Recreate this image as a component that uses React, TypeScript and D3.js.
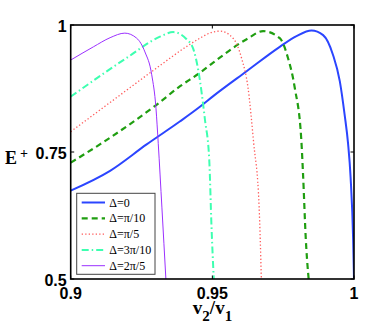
import React, { useEffect, useRef } from "react";
import * as d3 from "d3";

// values (v2/v1 -> E+)
const vDelta0 = [0.9, 0.9139, 0.9268, 0.9385, 0.9456, 0.9503, 0.9621, 0.9738, 0.9797, 0.985, 0.9891, 0.9926, 0.995, 0.9967, 0.9979, 0.9988, 0.9997, 1.0];
const eDelta0 = [0.674, 0.713, 0.765, 0.81, 0.839, 0.86, 0.909, 0.957, 0.978, 0.989, 0.98, 0.941, 0.889, 0.823, 0.767, 0.7, 0.577, 0.5];

const vDelta1 = [0.9, 0.9103, 0.9303, 0.9385, 0.9456, 0.9503, 0.9621, 0.9679, 0.9738, 0.9767, 0.9791, 0.9814, 0.982, 0.983, 0.9838, 0.984];
const eDelta1 = [0.729, 0.765, 0.843, 0.879, 0.906, 0.926, 0.972, 0.988, 0.974, 0.935, 0.876, 0.774, 0.708, 0.577, 0.512, 0.5];

const vDelta2 = [0.9, 0.915, 0.93, 0.9421, 0.9456, 0.9495, 0.9527, 0.9573, 0.9603, 0.9626, 0.9646, 0.9665, 0.9673];
const eDelta2 = [0.79, 0.852, 0.914, 0.962, 0.974, 0.985, 0.988, 0.974, 0.935, 0.876, 0.767, 0.643, 0.5];

const vDelta3 = [0.9, 0.9197, 0.9315, 0.9362, 0.9409, 0.9432, 0.945, 0.9474, 0.9489, 0.9497, 0.9505];
const eDelta3 = [0.859, 0.935, 0.977, 0.986, 0.972, 0.954, 0.912, 0.813, 0.735, 0.603, 0.5];

const vDelta4 = [0.9, 0.908, 0.9139, 0.9191, 0.9233, 0.9262, 0.9286, 0.9301, 0.9309, 0.9322, 0.9336];
const eDelta4 = [0.931, 0.957, 0.975, 0.984, 0.974, 0.947, 0.902, 0.836, 0.767, 0.64, 0.5];

const labels = ["Δ=0", "Δ=π/10", "Δ=π/5", "Δ=3π/10", "Δ=2π/5"];
const xTicks = [0.9, 0.95, 1];
const yTicks = [0.5, 0.75, 1];

const App = () => {
  const ref = useRef(null);

  useEffect(() => {
    const width = 391;
    const height = 330;
    const margin = { top: 25, right: 37, bottom: 51, left: 70.7 };

    const svg = d3.select(ref.current);
    svg.selectAll("*").remove();
    svg.attr("width", width).attr("height", height);

    const x = d3
      .scaleLinear()
      .domain([0.9, 1])
      .range([margin.left, width - margin.right]);
    const y = d3
      .scaleLinear()
      .domain([0.5, 1])
      .range([height - margin.bottom, margin.top]);

    const series = [
      { v: vDelta0, e: eDelta0, color: "#2b45ff", w: 2, dash: null },
      { v: vDelta1, e: eDelta1, color: "#1f9e10", w: 2.2, dash: "6,4" },
      { v: vDelta2, e: eDelta2, color: "#ff5a5a", w: 1.3, dash: "1.3,2.2" },
      { v: vDelta3, e: eDelta3, color: "#3dffb0", w: 2, dash: "7,3,1.5,3" },
      { v: vDelta4, e: eDelta4, color: "#9b30ff", w: 1, dash: null },
    ];

    const line = d3
      .line()
      .x((d) => x(d[0]))
      .y((d) => y(d[1]))
      .curve(d3.curveMonotoneX);

    svg
      .append("clipPath")
      .attr("id", "plotclip")
      .append("rect")
      .attr("x", margin.left)
      .attr("y", margin.top)
      .attr("width", width - margin.left - margin.right)
      .attr("height", height - margin.top - margin.bottom);

    const plot = svg.append("g").attr("clip-path", "url(#plotclip)");
    series.forEach((s) => {
      plot
        .append("path")
        .datum(s.v.map((v, i) => [v, s.e[i]]))
        .attr("d", line)
        .attr("fill", "none")
        .attr("stroke", s.color)
        .attr("stroke-width", s.w)
        .attr("stroke-dasharray", s.dash);
    });

    // box with inward ticks on all sides
    const x0 = x(0.9), x1 = x(1), y0 = y(0.5), y1 = y(1);
    const tick = 3.5;
    const axes = svg.append("g").attr("stroke", "#000").attr("stroke-width", 1);
    xTicks.forEach((t) => {
      axes.append("line").attr("x1", x(t)).attr("x2", x(t)).attr("y1", y0).attr("y2", y0 - tick);
      axes.append("line").attr("x1", x(t)).attr("x2", x(t)).attr("y1", y1).attr("y2", y1 + tick);
    });
    yTicks.forEach((t) => {
      axes.append("line").attr("x1", x0).attr("x2", x0 + tick).attr("y1", y(t)).attr("y2", y(t));
      axes.append("line").attr("x1", x1).attr("x2", x1 - tick).attr("y1", y(t)).attr("y2", y(t));
    });
    svg
      .append("rect")
      .attr("x", x0)
      .attr("y", y1)
      .attr("width", x1 - x0)
      .attr("height", y0 - y1)
      .attr("fill", "none")
      .attr("stroke", "#000")
      .attr("stroke-width", 1.6);

    const tickFont = "'Liberation Sans', Arial, sans-serif";
    svg
      .append("g")
      .selectAll("text")
      .data(xTicks)
      .join("text")
      .attr("x", (d) => x(d))
      .attr("y", y0 + 19.5)
      .attr("text-anchor", "middle")
      .attr("font-family", tickFont)
      .attr("font-weight", "bold")
      .attr("font-size", 16)
      .text((d) => d3.format("~g")(d));

    svg
      .append("g")
      .selectAll("text")
      .data(yTicks)
      .join("text")
      .attr("x", x0 - 4)
      .attr("y", (d) => y(d) + 7)
      .attr("text-anchor", "end")
      .attr("font-family", tickFont)
      .attr("font-weight", "bold")
      .attr("font-size", 16)
      .text((d) => d3.format("~g")(d));

    const serif = "'Liberation Serif', 'Times New Roman', serif";

    // x label v2/v1
    const xl = svg
      .append("text")
      .attr("x", 212.5)
      .attr("y", 314)
      .attr("text-anchor", "middle")
      .attr("font-family", serif)
      .attr("font-weight", "bold")
      .attr("font-size", 19);
    xl.append("tspan").text("v");
    xl.append("tspan").attr("dy", 7).attr("font-size", 15).text("2");
    xl.append("tspan").attr("dy", -7).text("/v");
    xl.append("tspan").attr("dy", 7).attr("font-size", 15).text("1");

    // y label E+
    const yl = svg
      .append("text")
      .attr("x", 5)
      .attr("y", 163.5)
      .attr("font-family", serif)
      .attr("font-weight", "bold")
      .attr("font-size", 18);
    yl.append("tspan").text("E");
    yl.append("tspan").attr("dx", 3).attr("dy", -6).attr("font-size", 14).text("+");

    // legend
    const lg = svg.append("g");
    lg.append("rect")
      .attr("x", 76.7)
      .attr("y", 193.3)
      .attr("width", 78.3)
      .attr("height", 81)
      .attr("fill", "#fff")
      .attr("stroke", "#444")
      .attr("stroke-width", 1);
    series.forEach((s, i) => {
      const ry = 202.5 + i * 15.8;
      lg.append("line")
        .attr("x1", 81.7)
        .attr("x2", 105)
        .attr("y1", ry)
        .attr("y2", ry)
        .attr("stroke", s.color)
        .attr("stroke-width", s.w)
        .attr("stroke-dasharray", s.dash);
      lg.append("text")
        .attr("x", 109.3)
        .attr("y", ry + 4)
        .attr("font-family", serif)
        .attr("font-size", 12)
        .text(labels[i]);
    });
  }, []);

  return (
    <svg
      ref={ref}
      style={{ position: "fixed", left: 0, top: 0, background: "#fff" }}
    ></svg>
  );
};

export default App;
